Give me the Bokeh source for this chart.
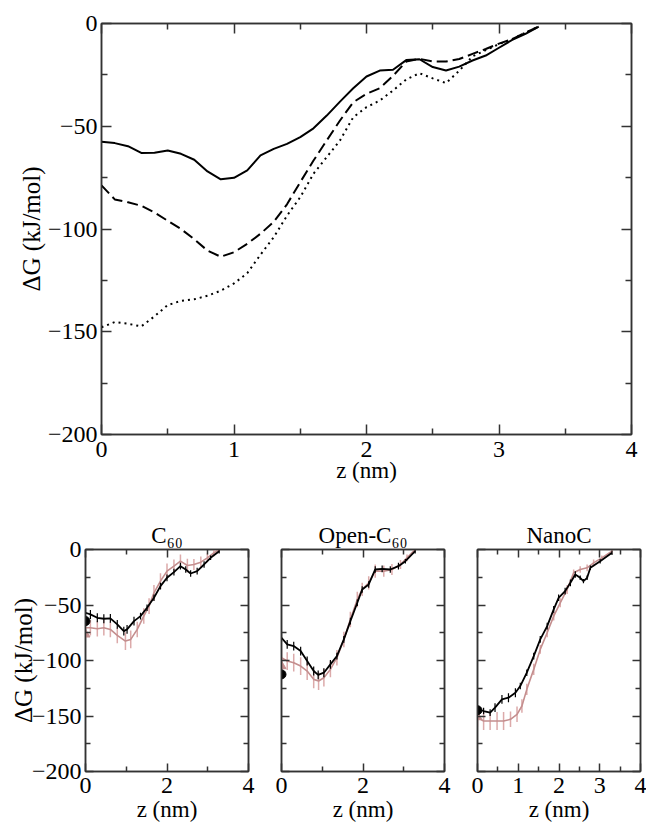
from bokeh.plotting import figure
from bokeh.models import LinearAxis, FixedTicker, Range1d
from bokeh.layouts import column, row
from bokeh.embed import file_html
from bokeh.resources import INLINE

FONT = "Liberation Serif"
FS = "23px"
TICK_FS = "24px"
YLAB_FS = "25px"

# ---------------- top panel data ----------------
top_z = [0.0, 0.1, 0.2, 0.3, 0.4, 0.5, 0.6, 0.7, 0.8, 0.9, 1.0, 1.1, 1.2, 1.3, 1.4, 1.5, 1.6,
         1.7, 1.8, 1.9, 2.0, 2.1, 2.2, 2.3, 2.4, 2.5, 2.6, 2.7, 2.8, 2.9, 3.0, 3.1, 3.2, 3.3]
top_solid = [-57.5, -58.2, -59.7, -63.0, -62.9, -61.8, -63.4, -66.3, -72.0, -75.8, -75.1, -71.5,
             -64.2, -61.0, -58.6, -55.3, -51.0, -44.8, -38.0, -31.5, -25.8, -22.9, -22.5, -17.8,
             -17.4, -21.2, -22.9, -21.0, -18.0, -15.6, -11.8, -8.0, -5.0, -1.5]
top_dashed = [-78.8, -85.6, -87.0, -88.7, -92.0, -96.0, -100.0, -105.0, -110.5, -113.5, -111.3,
              -107.2, -102.3, -96.5, -88.0, -77.2, -66.7, -56.9, -47.2, -38.3, -34.2, -31.5,
              -25.5, -18.5, -17.2, -18.5, -18.5, -17.3, -14.8, -12.4, -9.8, -7.6, -4.4, -1.5]
top_dotted = [-147.8, -145.3, -146.1, -147.4, -142.5, -137.0, -135.0, -134.2, -132.5, -130.0,
              -126.5, -121.5, -112.5, -104.0, -93.5, -84.5, -73.1, -65.0, -56.9, -45.6, -40.7,
              -37.5, -32.6, -27.2, -24.2, -26.7, -29.0, -23.0, -16.0, -13.0, -10.0, -7.6, -4.4,
              -1.5]

# ---------------- bottom panels data ----------------
titles = ["C\u2086\u2080", "Open-C\u2086\u2080", "NanoC"]

c60_bz = [0.0, 0.12, 0.29, 0.45, 0.61, 0.78, 0.94, 1.02, 1.19, 1.35, 1.51, 1.68, 1.84, 2.0,
          2.17, 2.33, 2.46, 2.58, 2.74, 2.91, 3.07, 3.28]
c60_bg = [-57.0, -58.5, -61.5, -62.4, -62.0, -67.5, -73.5, -72.0, -64.5, -60.0, -52.5, -43.5,
          -33.0, -25.5, -20.4, -15.0, -18.0, -21.6, -19.5, -13.5, -7.5, -1.5]
c60_be = [4, 4, 4, 4, 4, 4, 4, 4, 4, 3, 3, 3, 3, 3, 3, 3, 3, 3, 3, 3, 2, 2]
c60_pz = [0.0, 0.12, 0.29, 0.45, 0.61, 0.78, 0.98, 1.11, 1.27, 1.43, 1.56, 1.68, 1.84, 2.0,
          2.17, 2.33, 2.5, 2.66, 2.83, 2.99, 3.15, 3.28]
c60_pg = [-70.5, -70.5, -71.4, -70.5, -72.0, -77.4, -82.5, -81.0, -72.0, -60.0, -51.0, -39.0,
          -28.5, -19.5, -15.0, -10.5, -14.4, -13.5, -11.4, -7.5, -3.0, 0.0]
c60_pe = [7, 7, 7, 7, 7, 7, 8, 8, 7, 7, 7, 7, 7, 7, 6, 6, 6, 5, 5, 4, 3, 2]

open_bz = [0.0, 0.14, 0.30, 0.47, 0.63, 0.79, 0.90, 1.04, 1.20, 1.36, 1.53, 1.69, 1.86, 1.98,
           2.14, 2.30, 2.47, 2.67, 2.87, 3.04, 3.28]
open_bg = [-79.5, -85.5, -87.0, -91.5, -100.5, -109.5, -113.0, -111.0, -103.5, -96.0, -81.0,
           -64.5, -48.0, -36.0, -31.5, -18.0, -17.4, -18.0, -15.0, -10.5, -1.5]
open_be = [4, 4, 4, 4, 4, 4, 4, 4, 4, 3, 3, 3, 3, 3, 3, 3, 3, 3, 3, 2, 2]
open_pz = [0.0, 0.14, 0.30, 0.47, 0.63, 0.79, 0.91, 1.04, 1.20, 1.36, 1.53, 1.69, 1.86, 1.98,
           2.14, 2.30, 2.51, 2.71, 2.92, 3.08, 3.28]
open_pg = [-97.5, -100.5, -102.0, -105.0, -109.5, -117.0, -118.5, -115.5, -108.0, -97.5, -81.0,
           -63.0, -45.0, -36.0, -30.0, -19.5, -19.5, -18.0, -13.5, -7.5, 0.0]
open_pe = [8, 8, 8, 8, 8, 8, 8, 8, 7, 7, 7, 7, 7, 6, 6, 6, 5, 5, 4, 3, 2]

nano_bz = [0.0, 0.15, 0.31, 0.43, 0.60, 0.76, 0.93, 1.05, 1.21, 1.38, 1.54, 1.71, 1.87, 1.99,
           2.15, 2.28, 2.40, 2.52, 2.60, 2.69, 2.77, 3.01, 3.30]
nano_bg = [-144.0, -145.5, -147.0, -142.5, -135.0, -133.5, -129.0, -123.0, -111.0, -96.0, -81.0,
           -69.0, -54.0, -43.5, -37.5, -30.0, -22.5, -25.5, -28.5, -25.5, -16.5, -10.5, -3.0]
nano_be = [3, 3, 3, 4, 4, 4, 4, 3, 3, 3, 3, 3, 3, 3, 3, 3, 3, 2, 2, 2, 2, 2, 2]
nano_pz = [0.0, 0.15, 0.31, 0.48, 0.64, 0.81, 0.97, 1.09, 1.21, 1.38, 1.54, 1.71, 1.87, 2.03,
           2.20, 2.36, 2.52, 2.69, 2.85, 3.05, 3.30]
nano_pg = [-151.5, -154.5, -154.5, -154.5, -154.5, -153.0, -148.5, -141.0, -126.0, -108.0, -90.0,
           -75.0, -60.0, -48.0, -36.0, -21.0, -18.0, -16.5, -12.0, -7.5, -1.5]
nano_pe = [8, 8, 8, 8, 8, 7, 7, 6, 5, 5, 4, 4, 4, 4, 4, 3, 3, 3, 3, 2, 2]

dot_values = [-64.5, -112.5, -144.8]
tri_values = [-76.5, -105.0, -151.0]

panels = [
    (c60_bz, c60_bg, c60_be, c60_pz, c60_pg, c60_pe),
    (open_bz, open_bg, open_be, open_pz, open_pg, open_pe),
    (nano_bz, nano_bg, nano_be, nano_pz, nano_pg, nano_pe),
]

y_major = [-200, -150, -100, -50, 0]
y_minor = [-175, -125, -75, -25]

PINK = "#c48e8e"
PINK_ERR = "#dcaaaa"
AXC = "#333333"


def style_axis(ax, ticks, minor, major_len, minor_len, labels=True, label=None,
               label_standoff=0, tick_standoff=5, label_fs=FS):
    ax.ticker = FixedTicker(ticks=ticks, minor_ticks=minor)
    ax.major_tick_in = major_len
    ax.major_tick_out = 0
    ax.minor_tick_in = minor_len
    ax.minor_tick_out = 0
    ax.axis_line_color = AXC
    ax.axis_line_width = 1.5
    ax.major_tick_line_color = AXC
    ax.major_tick_line_width = 1.5
    ax.minor_tick_line_color = AXC
    ax.minor_tick_line_width = 1.5
    ax.major_label_text_font = FONT
    ax.axis_label_text_font = FONT
    ax.axis_label_text_font_style = "normal"
    ax.axis_label_text_font_size = label_fs
    ax.axis_label_text_color = "black"
    if labels:
        ax.major_label_text_font_size = TICK_FS
        ax.major_label_text_color = "black"
        ax.major_label_standoff = tick_standoff
    else:
        ax.major_label_text_font_size = "1px"
        ax.major_label_text_color = None
        ax.major_label_text_alpha = 0
        ax.major_label_standoff = 0
    if label is not None:
        ax.axis_label = label
        ax.axis_label_standoff = label_standoff


def make_fig(fw, fh, bl, br, bt, bb, title=None):
    p = figure(frame_width=fw, frame_height=fh, x_range=Range1d(0, 4), y_range=Range1d(-200, 0),
               output_backend="svg", toolbar_location=None, title=title,
               min_border_left=bl, min_border_right=br, min_border_top=bt, min_border_bottom=bb)
    p.grid.visible = False
    p.outline_line_color = AXC
    p.outline_line_width = 1.5
    p.background_fill_color = "white"
    p.border_fill_color = "white"
    return p


# ---------------- top figure ----------------
top = make_fig(530, 411, 101, 15, 23, 56)
xt = [0, 1, 2, 3, 4]
xm = [0.5, 1.5, 2.5, 3.5]
style_axis(top.xaxis[0], xt, xm, 10, 6, True, "z (nm)", label_standoff=-2, tick_standoff=7)
style_axis(top.yaxis[0], y_major, y_minor, 10, 6, True, "\u0394G (kJ/mol)", label_standoff=0,
           tick_standoff=4, label_fs=YLAB_FS)
ax_t = LinearAxis()
ax_r = LinearAxis()
top.add_layout(ax_t, "above")
top.add_layout(ax_r, "right")
style_axis(ax_t, xt, xm, 10, 6, False)
style_axis(ax_r, y_major, y_minor, 10, 6, False)

top.line(top_z, top_solid, line_color="black", line_width=2)
top.line(top_z, top_dashed, line_color="black", line_width=2, line_dash="11 5")
top.line(top_z, top_dotted, line_color="black", line_width=2, line_dash="2 4")

# ---------------- bottom figures ----------------
borders = [(85, 16), (17, 16), (17, 6)]
x_ticks = [([0, 2, 4], [1, 3]), ([0, 2, 4], [1, 3]), ([0, 1, 2, 3, 4], [0.5, 1.5, 2.5, 3.5])]
figs = []
for i, (bz, bg, be, pz, pg, pe) in enumerate(panels):
    bl, br = borders[i]
    p = make_fig(163, 222, bl, br, 59, 55, title=titles[i])
    p.title.align = "center"
    p.title.text_font = FONT
    p.title.text_font_size = FS
    p.title.text_font_style = "normal"
    p.title.text_color = "black"
    p.title.standoff = 4
    tk, mn = x_ticks[i]
    style_axis(p.xaxis[0], tk, mn, 8, 5, True, "z (nm)", label_standoff=1, tick_standoff=6)
    if i == 0:
        style_axis(p.yaxis[0], y_major, y_minor, 8, 5, True, "\u0394G (kJ/mol)",
                   label_standoff=-8, tick_standoff=4, label_fs=YLAB_FS)
    else:
        style_axis(p.yaxis[0], y_major, y_minor, 8, 5, False)
    a_t = LinearAxis()
    a_r = LinearAxis()
    p.add_layout(a_t, "above")
    p.add_layout(a_r, "right")
    style_axis(a_t, tk, mn, 8, 5, False)
    style_axis(a_r, y_major, y_minor, 8, 5, False)

    # pink series with error bars
    p.segment(x0=pz, y0=[g - e for g, e in zip(pg, pe)], x1=pz, y1=[g + e for g, e in zip(pg, pe)],
              line_color=PINK_ERR, line_width=1.5)
    p.line(pz, pg, line_color=PINK, line_width=1.6)
    # black series with error bars
    p.segment(x0=bz, y0=[g - e for g, e in zip(bg, be)], x1=bz, y1=[g + e for g, e in zip(bg, be)],
              line_color="black", line_width=1.2)
    p.line(bz, bg, line_color="black", line_width=1.8)

    p.scatter([0], [tri_values[i]], marker="triangle", size=9, fill_color=PINK, line_color=PINK)
    p.scatter([0], [dot_values[i]], marker="circle", size=9, fill_color="black", line_color="black")
    figs.append(p)

layout = column(top, row(*figs))
open("out.html", "w").write(file_html(layout, INLINE))
